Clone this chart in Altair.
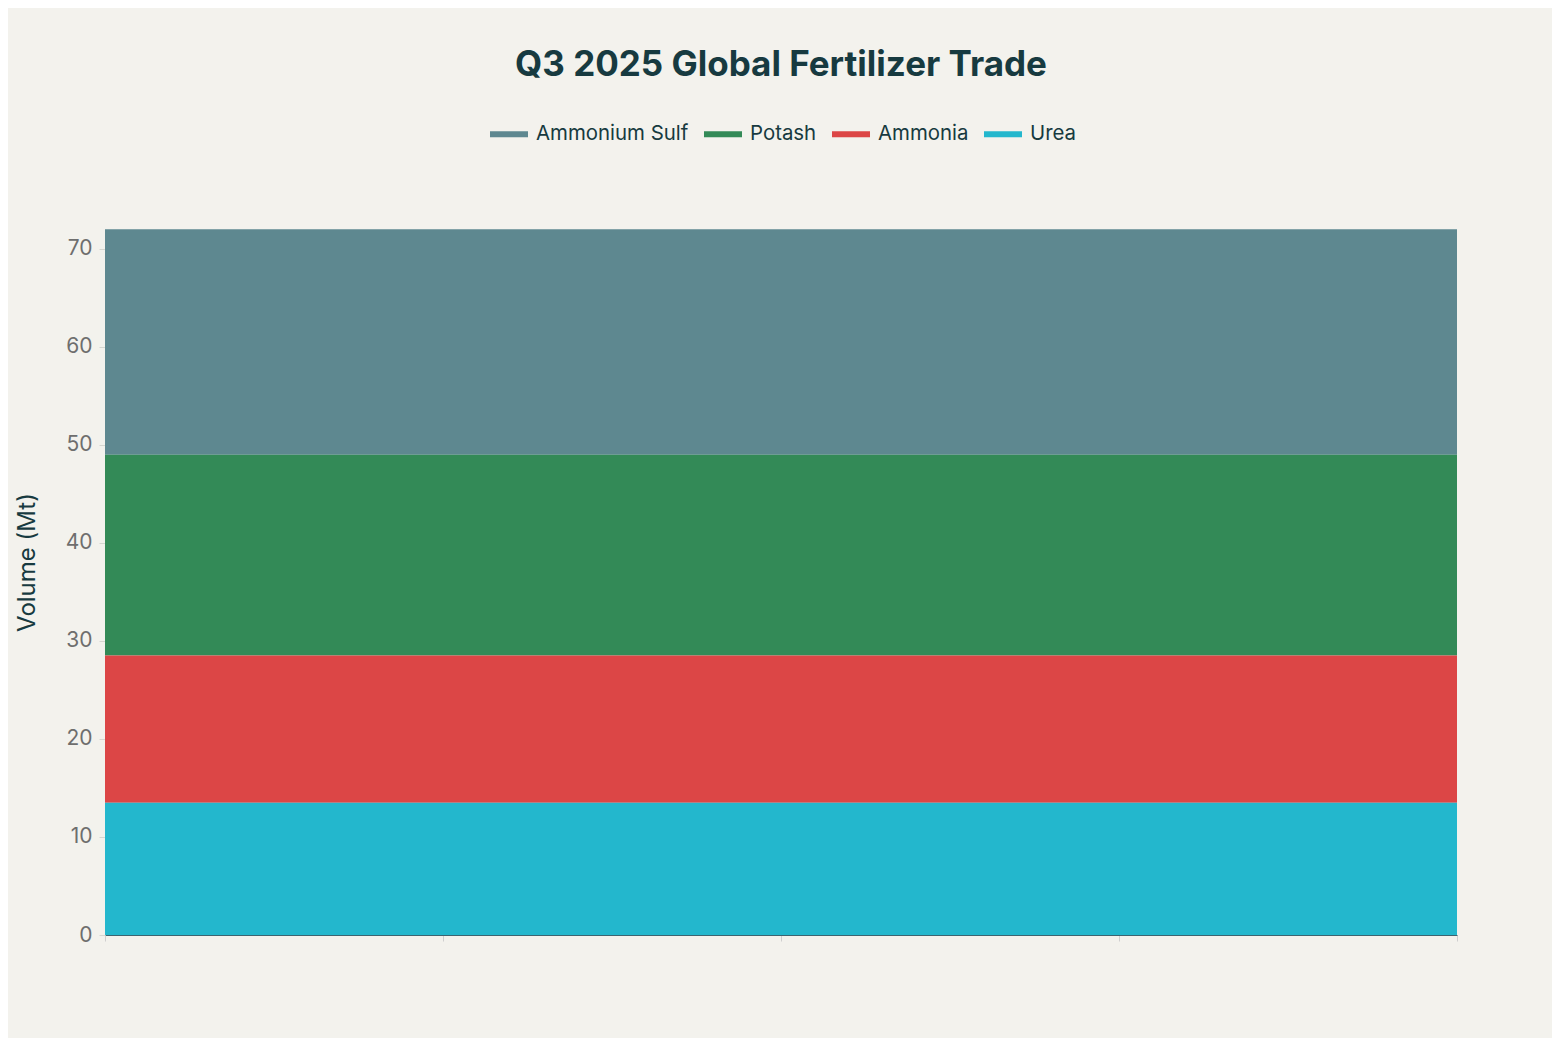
import altair as alt
import pandas as pd

# Data
x_points = [0, 1, 2, 3, 4]
series_names = ["Ammonium Sulf", "Potash", "Ammonia", "Urea"]
stack_rank = [3, 2, 1, 0]  # Urea at the bottom
ammonium_sulf = [23.0, 23.0, 23.0, 23.0, 23.0]
potash = [20.5, 20.5, 20.5, 20.5, 20.5]
ammonia = [15.0, 15.0, 15.0, 15.0, 15.0]
urea = [13.5, 13.5, 13.5, 13.5, 13.5]
colors = ["#5e8890", "#338a57", "#dc4646", "#23b7cd"]
y_ticks = [0, 10, 20, 30, 40, 50, 60, 70]

series_values = [ammonium_sulf, potash, ammonia, urea]
rows = []
for name, rank, vals in zip(series_names, stack_rank, series_values):
    for x, v in zip(x_points, vals):
        rows.append({"x": x, "series": name, "rank": rank, "value": v})
df = pd.DataFrame(rows)

FONT = "Inter"
DARK = "#173a40"

chart = (
    alt.Chart(df)
    .mark_area(opacity=1)
    .encode(
        x=alt.X(
            "x:Q",
            scale=alt.Scale(domain=[0, 4], nice=False, zero=False),
            axis=alt.Axis(
                title=None,
                labels=False,
                values=x_points,
                grid=False,
                domain=True,
                domainColor="#3d6470",
                domainWidth=1,
                ticks=True,
                tickColor="#cfcfcf",
                tickSize=6,
            ),
        ),
        y=alt.Y(
            "value:Q",
            stack="zero",
            scale=alt.Scale(domain=[0, 76.1], nice=False),
            axis=alt.Axis(
                title="Volume (Mt)",
                values=y_ticks,
                grid=False,
                domain=False,
                ticks=True,
                tickColor="#d6d6d0",
                tickSize=6,
                labelPadding=7,
                labelFont=FONT,
                labelFontSize=21,
                labelColor="#6e6e6e",
                titleFont=FONT,
                titleFontSize=24,
                titleFontWeight="normal",
                titleColor=DARK,
                titlePadding=26,
            ),
        ),
        color=alt.Color(
            "series:N",
            scale=alt.Scale(domain=series_names, range=colors),
            legend=alt.Legend(
                title=None,
                orient="none",
                direction="horizontal",
                legendX=385,
                legendY=-74,
                symbolType="M-1,-0.16L1,-0.16L1,0.16L-1,0.16Z",
                symbolSize=1444,
                symbolStrokeWidth=0,
                symbolOpacity=1,
                labelFont=FONT,
                labelFontSize=20.4,
                labelColor=DARK,
                labelOffset=8,
                columnPadding=15,
            ),
        ),
        order=alt.Order("rank:Q", sort="ascending"),
    )
    .properties(
        width=1352,
        height=746,
        title=alt.TitleParams(
            "Q3 2025 Global Fertilizer Trade",
            font=FONT,
            fontSize=35,
            fontWeight="bold",
            color=DARK,
            anchor="middle",
            baseline="alphabetic",
            offset=4,
        ),
        background="#f3f2ed",
        padding={"left": 97, "top": 181, "right": 95, "bottom": 103},
        autosize=alt.AutoSizeParams(type="none"),
    )
    .configure_view(stroke=None)
)

chart.save("out.html", embed_options={"renderer": "svg", "actions": False})
